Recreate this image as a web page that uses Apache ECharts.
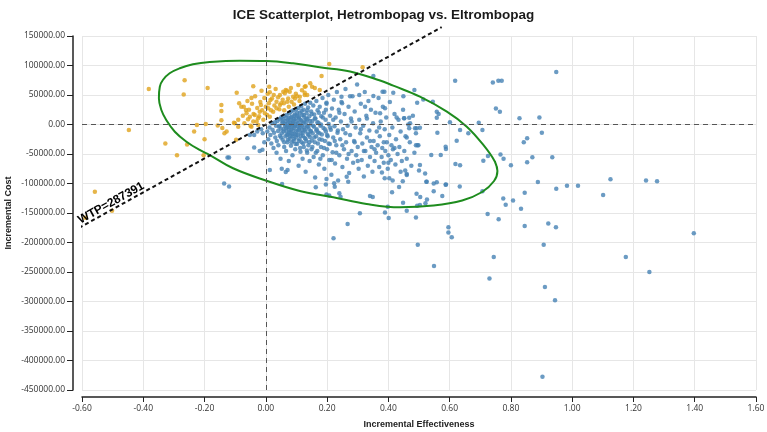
<!DOCTYPE html>
<html lang="en">
<head>
  <meta charset="UTF-8">
  <title>ICE Scatterplot</title>
  <script src="https://cdn.jsdelivr.net/npm/echarts@6/dist/echarts.min.js"></script>
  <style>
    html, body { margin: 0; padding: 0; background: #fff; }
    #chart { width: 767px; height: 432px; }
  </style>
</head>
<body>
  <div id="chart"></div>
  <script>
    // axis settings
    var xMin = -0.6, xMax = 1.6, xStep = 0.2;
    var yMin = -450000, yMax = 150000, yStep = 50000;

    // willingness-to-pay threshold
    var WTP = 287391;
    var wtpEffect = [-0.63, 0.574];

    // points above the WTP line (orange)
    var abovePoints = [
      [-0.589,-158000],[-0.558,-114000],[-0.502,-146000],
      [-0.447,-9300],[-0.382,60000],[-0.328,-32000],[-0.29,-52000],[-0.265,75000],[-0.268,51000],
      [-0.257,-34000],[-0.234,-12000],[-0.225,-1000],[-0.2,-25000],[-0.203,-52000],[-0.196,1000],
      [-0.19,62000],[-0.157,-1500],[-0.145,33000],[-0.145,23000],[-0.145,7000],[-0.142,-6000],
      [-0.135,-15000],[-0.128,-12000],[-0.104,3000],[-0.097,-26000],[-0.095,54000],[-0.041,65000],
      [-0.087,36000],[-0.072,30000],[-0.065,24500],[-0.047,45000],[-0.014,57000],[-0.016,33000],
      [0.011,64000],[0.013,54500],[0.015,41500],[0.026,50000],[0.035,38500],[0.046,50000],
      [0.057,55500],[0.065,58500],[0.073,44000],[0.078,55500],[0.089,47000],[0.106,67000],[0.127,64000],
      [-0.063,19000],[-0.052,13000],[-0.036,16000],[-0.025,10500],[-0.02,21500],[-0.003,19000],
      [0.008,27500],[0.013,13000],[0.024,21500],[0.035,27500],[0.046,33000],[0.059,36000],
      [0.07,38500],[0.084,38500],[0.095,44000],[0.111,47000],[0.127,50000],
      [-0.041,5000],[-0.025,-1000],[-0.047,-4000],[-0.101,2000],[-0.09,-4000],
      [0.207,102500],[0.182,82000],[0.316,97000],[0.176,58500],[0.151,64000],[0.13,65000],
      [0.127,54000],[0.102,48000],[0.069,57000],[0.062,53000],
      [-0.09,8000],[-0.08,30000],[-0.075,15000],[-0.07,2000],[-0.06,40000],[-0.058,9000],
      [-0.055,25000],[-0.05,-2000],[-0.045,35000],[-0.04,18000],[-0.035,48000],[-0.03,5000],
      [-0.028,28000],[-0.022,14000],[-0.018,38000],[-0.012,24000],[-0.008,8000],[-0.005,45000],
      [0.0,30000],[0.004,16000],[0.006,52000],[0.01,36000],[0.017,24000],[0.02,44000],
      [0.028,32000],[0.032,60000],[0.04,46000],[0.044,26000],[0.05,36000],[0.055,42000],
      [0.06,24000],[0.075,30000],[0.082,62000],[0.092,34000],[0.098,52000],[0.11,40000],
      [0.118,58000],[0.135,50000],[0.145,70000],[0.16,62000]
    ];

    // points below the WTP line (blue)
    var belowPoints = [
      [-0.136,-100000],[-0.12,-105000],[-0.125,-56000],[-0.12,-56000],[-0.06,-57000],
      [-0.038,-39000],[-0.052,-18000],[-0.038,-18000],[-0.011,-43000],
      [-0.015,-8000],[-0.01,-15000],[-0.005,-30000],[-0.02,-45000],[-0.028,-12000],
      [0.005,-12000],[0.008,-25000],[0.012,-5000],[0.015,-18000],[0.018,-32000],[0.02,2000],
      [0.022,-9000],[0.025,-40000],[0.027,-14000],[0.03,4000],[0.031,-22000],[0.033,-2000],
      [0.035,-48000],[0.036,-28000],[0.038,6000],[0.04,-11000],[0.041,-35000],[0.043,-4000],
      [0.045,9000],[0.046,-19000],[0.048,-58000],[0.049,-7000],[0.05,12000],
      [0.052,-15000],[0.054,3000],[0.055,-26000],[0.056,10000],[0.058,-8000],[0.06,-38000],
      [0.061,14000],[0.062,-2000],[0.064,-20000],[0.065,6000],[0.066,-45000],[0.067,-12000],
      [0.068,16000],[0.07,-5000],[0.071,-30000],[0.072,2000],[0.073,-17000],[0.074,11000],
      [0.075,-62000],[0.076,-9000],[0.077,19000],[0.078,-24000],[0.079,-1000],[0.08,7000],
      [0.081,-14000],[0.082,-36000],[0.083,22000],[0.084,-4000],[0.085,13000],[0.086,-20000],
      [0.087,-52000],[0.088,3000],[0.089,-10000],[0.09,24000],[0.091,-28000],[0.092,9000],
      [0.093,-6000],[0.094,-16000],[0.095,17000],[0.096,-42000],[0.097,0],[0.098,-22000],
      [0.099,26000],[0.1,-12000],
      [0.101,5000],[0.102,-33000],[0.103,15000],[0.104,-3000],[0.105,-18000],[0.106,28000],
      [0.107,-70000],[0.108,-8000],[0.109,10000],[0.11,-25000],[0.111,20000],[0.112,-1000],
      [0.113,-46000],[0.114,-14000],[0.115,31000],[0.116,6000],[0.117,-30000],[0.118,-9000],
      [0.119,16000],[0.12,-58000],[0.121,-19000],[0.122,2000],[0.123,25000],[0.124,-38000],
      [0.125,-5000],[0.126,12000],[0.127,-23000],[0.128,35000],[0.129,-12000],[0.13,-80000],
      [0.131,4000],[0.132,-28000],[0.133,19000],[0.134,-2000],[0.135,-48000],[0.136,9000],
      [0.137,-16000],[0.138,29000],[0.139,-35000],[0.14,-7000],[0.142,14000],[0.143,-62000],
      [0.144,-21000],[0.145,37000],[0.146,0],[0.147,-11000],[0.148,22000],[0.149,-42000],[0.15,-27000],
      [0.152,6000],[0.153,-15000],[0.155,32000],[0.156,-55000],[0.157,-4000],[0.158,17000],
      [0.16,-30000],[0.161,-90000],[0.162,10000],[0.164,-20000],[0.165,40000],[0.166,-8000],
      [0.168,-45000],[0.169,24000],[0.17,-13000],[0.172,3000],[0.173,-68000],[0.175,-25000],
      [0.176,30000],[0.178,-2000],[0.18,-38000],[0.181,14000],[0.183,-17000],[0.185,45000],
      [0.186,-52000],[0.188,-6000],[0.19,20000],[0.191,-75000],[0.193,-28000],[0.195,8000],
      [0.196,-12000],[0.198,35000],[0.2,-42000],[0.202,-20000],[0.204,50000],[0.205,1000],
      [0.207,-60000],[0.209,-33000],[0.21,15000],[0.212,-9000],[0.214,-85000],[0.216,27000],
      [0.218,-47000],[0.22,-22000],
      [0.045,-2000],[0.05,-22000],[0.055,5000],[0.058,-12000],[0.06,-30000],[0.063,1000],
      [0.066,-6000],[0.069,-18000],[0.07,9000],[0.072,-26000],[0.074,-3000],[0.076,-13000],
      [0.078,4000],[0.08,-20000],[0.082,12000],[0.083,-8000],[0.085,-30000],[0.087,0],
      [0.088,-16000],[0.09,6000],[0.092,-24000],[0.093,15000],[0.095,-3000],[0.097,-33000],
      [0.098,10000],[0.1,-18000],[0.102,20000],[0.104,-10000],[0.105,2000],[0.107,-28000],
      [0.108,13000],[0.11,-5000],[0.112,-40000],[0.113,8000],[0.115,-20000],[0.117,23000],
      [0.118,-2000],[0.12,-14000],[0.122,-32000],[0.124,16000],[0.125,5000],[0.127,-9000],
      [0.13,-24000],[0.132,10000],[0.134,-44000],[0.135,24000],[0.137,-4000],[0.14,-18000],
      [0.142,-30000],[0.144,6000],[0.146,-12000],[0.15,18000],[0.152,-38000],[0.155,-2000],
      [0.158,-22000],[0.16,10000],[0.163,-48000],[0.165,-10000],[0.168,4000],[0.17,-32000],
      [0.173,20000],[0.175,-15000],[0.178,-58000],[0.18,0],[0.183,-26000],[0.186,12000],
      [0.19,-40000],[0.193,-8000],[0.196,25000],[0.2,-18000],[0.205,-32000],[0.21,-5000],
      [0.215,-60000],[0.22,8000],[0.225,-28000],[0.23,-48000],[0.235,-10000],[0.24,20000],
      [0.25,-35000],[0.26,-15000],[0.27,-50000],[0.28,5000],[0.29,-30000],[0.3,-62000],
      [0.31,-8000],[0.32,-45000],[0.33,10000],[0.34,-28000],[0.355,-42000],[0.37,-5000],
      [0.385,-30000],[0.4,-65000],[0.42,-40000],[0.44,-80000],[0.46,-22000],
      [0.222,42000],[0.224,-3000],[0.226,-66000],[0.228,12000],[0.23,-35000],[0.232,55000],
      [0.234,-14000],[0.236,-95000],[0.238,25000],[0.24,-52000],[0.243,-25000],[0.245,5000],
      [0.247,38000],[0.25,-72000],[0.252,-8000],[0.255,-42000],[0.257,18000],[0.26,60000],
      [0.262,-30000],[0.265,-58000],[0.267,-2000],[0.27,30000],[0.272,-82000],[0.275,-18000],
      [0.278,10000],[0.28,-45000],[0.283,48000],[0.285,-65000],[0.288,-28000],[0.29,22000],
      [0.293,-5000],[0.295,-52000],[0.298,68000],[0.3,-38000],[0.303,-75000],[0.305,8000],
      [0.308,-15000],[0.31,35000],[0.313,-60000],[0.315,-32000],[0.318,-2000],[0.32,-88000],
      [0.323,55000],[0.325,-45000],[0.328,15000],[0.33,-22000],[0.333,-70000],[0.335,40000],
      [0.338,-10000],[0.34,-55000],[0.343,25000],[0.345,-38000],[0.348,-80000],[0.35,2000],
      [0.275,48000],[0.305,50000],[0.351,48300],[0.324,30000],[0.247,47000],[0.198,37000],
      [0.249,36000],[0.389,27500],[0.373,19000],[0.427,12000],[0.451,10500],[0.471,2000],
      [0.492,-6500],[0.558,21500],
      [0.352,-28000],[0.355,-62000],[0.358,20000],[0.36,-48000],[0.362,-12000],[0.365,-35000],
      [0.368,45000],[0.37,-72000],[0.372,-20000],[0.375,5000],[0.378,-55000],[0.38,-40000],
      [0.382,30000],[0.385,-65000],[0.388,-8000],[0.39,-45000],[0.393,12000],[0.395,-30000],
      [0.398,-75000],[0.4,-52000],[0.403,-18000],[0.405,38000],[0.408,-60000],[0.41,-35000],
      [0.413,-5000],[0.415,-42000],[0.42,18000],[0.423,-68000],[0.425,-25000],[0.43,-50000],
      [0.433,8000],[0.436,-38000],[0.44,-12000],[0.444,-62000],[0.448,25000],[0.452,-45000],
      [0.456,-20000],[0.46,-58000],[0.465,0],[0.47,-30000],[0.475,-70000],[0.48,15000],
      [0.485,-48000],[0.49,-15000],[0.495,-35000],[0.5,-78000],
      [0.013,-77000],[0.052,-75000],[0.065,-80500],[0.071,-77000],[0.053,-101000],
      [0.163,-106500],[0.196,-101500],[0.198,-92500],[0.223,-99500],[0.225,-105500],
      [0.198,-118500],[0.207,-120500],[0.24,-116500],[0.244,-122500],[0.307,-150500],
      [0.267,-168500],[0.221,-193000],[0.34,-121000],[0.349,-123000],[0.264,-88500],[0.269,-97000],
      [0.351,82000],[0.381,55500],[0.387,55500],[0.416,54000],[0.449,48000],[0.485,58500],
      [0.514,42500],[0.545,38500],[0.564,18000],[0.558,11500],[0.494,37000],[0.468,11500],
      [0.452,10500],[0.503,-5500],[0.487,-6500],[0.468,-6500],[0.56,-14000],[0.49,-35000],
      [0.498,-35000],[0.587,-37500],[0.588,-41500],[0.54,-51500],[0.571,-51500],[0.503,-68500],
      [0.525,-97000],[0.558,-98000],[0.588,-101500],[0.46,-85500],
      [0.596,-174000],[0.596,-183000],[0.607,-191000],[0.496,-204000],[0.549,-240000],
      [0.49,-157500],[0.401,-158500],[0.389,-149000],[0.46,-146000],[0.398,-139500],
      [0.494,-137500],[0.503,-136500],[0.521,-133500],[0.526,-127000],[0.448,-132500],
      [0.576,-121000],[0.548,-113000],[0.548,-100000],[0.587,-102000],[0.492,-117500],
      [0.504,-123000],[0.412,-115000],[0.435,-106000],[0.447,-96000],[0.52,-83000],
      [0.524,-97000],[0.388,-91000],[0.403,-91000],[0.414,-95000],[0.379,-81500],
      [0.455,-78000],[0.46,-84000],
      [0.618,74000],[0.741,71000],[0.759,74000],[0.770,74000],[0.948,89000],[0.751,27000],
      [0.764,21500],[0.828,10500],[0.893,12000],[0.695,3000],[0.601,4000],[0.634,-9500],
      [0.661,-15000],[0.707,-9500],[0.901,-14000],[0.623,-27500],[0.842,-30000],[0.853,-23500],
      [0.725,-53500],[0.71,-61500],[0.766,-51000],[0.776,-58000],[0.619,-67000],[0.634,-69000],
      [0.8,-69000],[0.853,-64000],[0.87,-55500],[0.935,-55500],[0.633,-105000],[0.707,-113000],
      [0.775,-125500],[0.783,-136000],[0.807,-129000],[0.833,-143000],[0.845,-115500],
      [0.888,-97500],[0.948,-109000],[0.983,-104000],[1.019,-104000],[1.101,-119500],
      [1.125,-93000],[1.241,-95000],[1.277,-96000],[1.397,-184500],[1.175,-224500],
      [1.252,-250000],[0.724,-151500],[0.76,-160500],[0.845,-172000],[0.922,-168000],
      [0.947,-174000],[0.907,-204000],[0.744,-224500],[0.73,-261000],[0.911,-275500],
      [0.944,-298000],[0.903,-427500]
    ];

    // confidence ellipse outline (first segment repeated to close)
    var ellipseEffect = [0.756,0.748,0.710,0.656,0.591,0.503,0.416,0.373,0.275,0.176,0.089,0.002,
      -0.085,-0.183,-0.238,-0.281,-0.314,-0.336,-0.346,-0.349,-0.341,-0.325,-0.297,-0.259,-0.216,
      -0.183,-0.107,0.002,0.111,0.220,0.329,0.438,0.547,0.641,0.706,0.745,0.756,0.748];
    var ellipseCost = [-78800,-63100,-34700,-3700,21700,47100,65800,74600,90000,97000,103700,107600,
      108100,105900,102000,95300,86800,75400,64100,44400,24600,7600,-12200,-29200,-43200,
      -51700,-74200,-95300,-112700,-123400,-134700,-140300,-137300,-128800,-114400,-95800,-78800,-63100];

    var wtpLabelAt = [[-0.505, -133000]];

    var chart = echarts.init(document.getElementById('chart'));

    var ellipseData = ellipseEffect.map(function (x, i) { return [x, ellipseCost[i]]; });
    var wtpData = wtpEffect.map(function (x) { return [x, WTP * x]; });

    var option = {
      animation: false,
      backgroundColor: '#fff',
      title: {
        text: 'ICE Scatterplot, Hetrombopag vs. Eltrombopag',
        left: 'center',
        top: 3,
        textStyle: { fontFamily: 'Liberation Sans', fontSize: 13.5, fontWeight: 'bold', color: '#1a1a1a' }
      },
      grid: { left: 82, right: 11, top: 36, bottom: 42, containLabel: false, outerBoundsMode: 'none' },
      xAxis: {
        type: 'value',
        min: xMin, max: xMax, interval: xStep,
        offset: 7,
        name: 'Incremental Effectiveness',
        nameLocation: 'middle',
        nameGap: 23,
        nameMoveOverlap: false,
        nameTextStyle: { fontFamily: 'Liberation Sans', fontSize: 9, fontWeight: 'bold', color: '#222' },
        axisLine: { onZero: false, lineStyle: { color: '#222', width: 1.5 } },
        axisTick: { show: true, length: 5, lineStyle: { color: '#222' } },
        axisLabel: {
          margin: 7, fontSize: 8.5, color: '#333', fontFamily: 'Open Sans',
          formatter: function (v) { return v.toFixed(2); }
        },
        splitLine: { show: true, lineStyle: { color: '#e6e6e6', width: 1 } }
      },
      yAxis: {
        type: 'value',
        min: yMin, max: yMax, interval: yStep,
        offset: 9,
        name: 'Incremental Cost',
        nameLocation: 'middle',
        nameGap: 60,
        nameMoveOverlap: false,
        nameTextStyle: { fontFamily: 'Liberation Sans', fontSize: 9, fontWeight: 'bold', color: '#222' },
        axisLine: { show: true, onZero: false, lineStyle: { color: '#222', width: 1.5 } },
        axisTick: { show: true, length: 6, lineStyle: { color: '#222' } },
        axisLabel: {
          margin: 8, fontSize: 8.5, color: '#333', fontFamily: 'Open Sans',
          formatter: function (v) { return v.toFixed(2); }
        },
        splitLine: { show: true, lineStyle: { color: '#e6e6e6', width: 1 } }
      },
      series: [
        {
          name: 'Below WTP',
          type: 'scatter',
          data: belowPoints,
          symbolSize: 4.5,
          itemStyle: { color: '#4682b4' },
          markLine: {
            silent: true,
            symbol: 'none',
            label: { show: false },
            lineStyle: { type: [5, 4], color: '#555', width: 1 },
            data: [{ xAxis: 0 }, { yAxis: 0 }]
          }
        },
        {
          name: 'Above WTP',
          type: 'scatter',
          data: abovePoints,
          symbolSize: 4.5,
          itemStyle: { color: '#e0a31c' }
        },
        {
          name: 'Ellipse',
          type: 'line',
          data: ellipseData,
          smooth: 0.4,
          symbol: 'none',
          lineStyle: { color: '#1e8c1e', width: 2 }
        },
        {
          name: 'WTP',
          type: 'line',
          data: wtpData,
          clip: false,
          symbol: 'none',
          lineStyle: { color: '#111', width: 2, type: [4, 3] }
        },
        {
          name: 'WTP label',
          type: 'scatter',
          data: wtpLabelAt,
          symbolSize: 0,
          z: 10,
          label: {
            show: true,
            position: 'inside',
            rotate: 29,
            formatter: 'WTP=' + WTP,
            fontFamily: 'Liberation Sans',
            fontSize: 12,
            fontWeight: 'bold',
            color: '#000',
            opacity: 1
          }
        }
      ]
    };
    chart.setOption(option);
  </script>
</body>
</html>
